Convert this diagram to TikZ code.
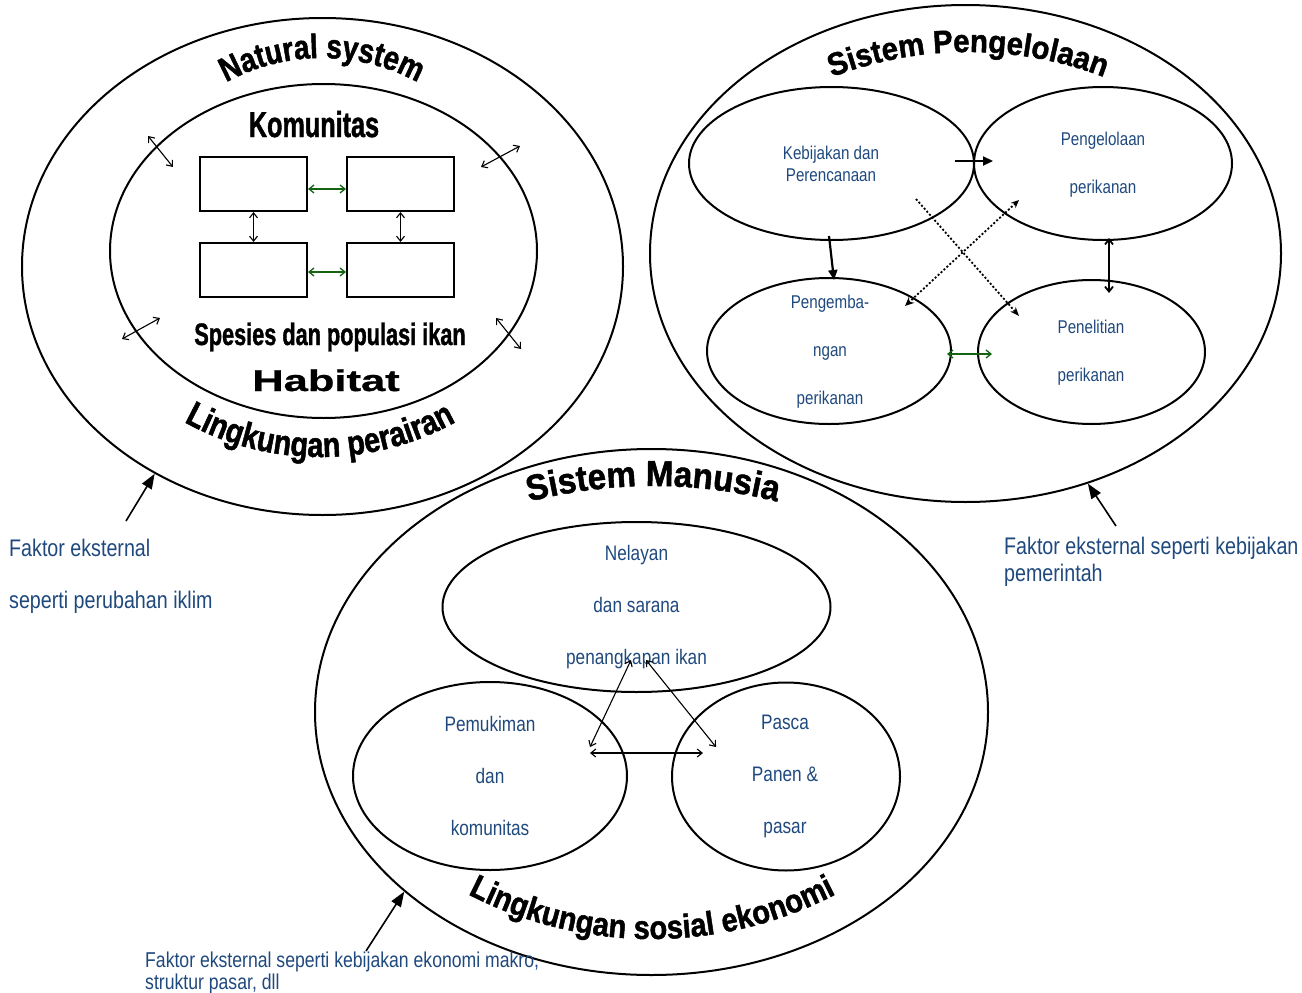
\documentclass[tikz,border=0pt]{standalone}
\usepackage{fontspec}
\setmainfont{Liberation Sans}
\newfontfamily\bluefamily{Liberation Sans}[FakeStretch=0.82]
\newfontfamily\condfamily{Liberation Sans Bold}[FakeStretch=0.70,FakeBold=1.2]
\newfontfamily\widefamily{Liberation Sans Bold}[FakeStretch=1.45,FakeBold=0.8]
\newfontfamily\arcfamilyA{Liberation Sans Bold}[FakeStretch=0.82,FakeBold=1.4]
\newfontfamily\arcfamilyB{Liberation Sans Bold}[FakeStretch=0.92,FakeBold=1.4]
\newfontfamily\arcfamilyC{Liberation Sans Bold}[FakeStretch=0.88,FakeBold=1.4]
\newcommand\fNat{\arcfamilyA\fontsize{34}{40}\selectfont}
\newcommand\fLing{\arcfamilyA\fontsize{35}{40}\selectfont}
\newcommand\fSP{\arcfamilyB\fontsize{32}{38}\selectfont}
\newcommand\fSM{\arcfamilyB\fontsize{36}{40}\selectfont}
\newcommand\fLSE{\arcfamilyC\fontsize{33}{38}\selectfont}
\usetikzlibrary{shapes.geometric,arrows.meta,decorations.text,calc}
\definecolor{blu}{RGB}{31,73,125}
\definecolor{grn}{RGB}{20,100,20}
\tikzset{
  shp/.style={draw, line width=2pt, ellipse, inner sep=0pt},
  boxn/.style={draw, line width=2pt, rectangle, inner sep=0pt, minimum width=107pt, minimum height=54pt},
  dbl/.style={line width=1.1pt, {Straight Barb[length=5pt,width=8pt]}-{Straight Barb[length=5pt,width=8pt]}},
  gdbl/.style={dbl, draw=grn, line width=1.3pt},
  thk/.style={line width=2.2pt, -{Triangle[length=10pt,width=9pt]}},
  dotl/.style={line width=1.8pt, dash pattern=on 2pt off 2pt},
  ext/.style={line width=1.6pt, -{Triangle[length=15pt,width=11pt]}},
  bt/.style={text=blu, align=center, inner sep=0pt},
  lbl/.style={text=blu, inner sep=0pt, anchor=base west, font=\bluefamily\fontsize{24}{28}\selectfont},
  lblsm/.style={text=blu, inner sep=0pt, anchor=base west, font=\bluefamily\fontsize{21.5}{25}\selectfont},
  inA/.style={bt, font=\bluefamily\fontsize{18.5}{48}\selectfont},
  inB/.style={bt, font=\bluefamily\fontsize{21}{52}\selectfont},
}
\begin{document}
\begin{tikzpicture}[x=1pt,y=1pt]
\useasboundingbox (0,0) rectangle (1302,-993);

% ---------- Natural system ----------
\node[shp, minimum width=601pt, minimum height=497pt] (nat) at (322.5,-266.5) {};
\node[shp, minimum width=427pt, minimum height=334pt] (hab) at (323.5,-251) {};
\node[boxn] (b1) at (253.5,-184) {};
\node[boxn] (b2) at (400.5,-184) {};
\node[boxn] (b3) at (253.5,-270) {};
\node[boxn] (b4) at (400.5,-270) {};
\draw[gdbl] ([yshift=-5pt]b1.east) -- ([yshift=-5pt]b2.west);
\draw[gdbl] ([yshift=-2pt]b3.east) -- ([yshift=-2pt]b4.west);
\draw[dbl] (b1.south) -- (b3.north);
\draw[dbl] (b2.south) -- (b4.north);

\node[anchor=base, inner sep=0pt, font=\condfamily\fontsize{36}{40}\selectfont] (kom) at (314,-137) {Komunitas};
\node[anchor=base, inner sep=0pt, font=\condfamily\fontsize{31}{36}\selectfont] (spe) at (330,-345) {Spesies dan populasi ikan};
\node[anchor=base, inner sep=0pt, font=\widefamily\fontsize{30}{36}\selectfont] (habt) at (326,-391) {Habitat};

\coordinate (d1a) at (148,-136); \coordinate (d1b) at (173,-167);
\coordinate (d2a) at (481,-167); \coordinate (d2b) at (520,-146);
\coordinate (d3a) at (122,-339); \coordinate (d3b) at (160,-318);
\coordinate (d4a) at (496,-318); \coordinate (d4b) at (521,-349);
\draw[dbl] (d1a) -- (d1b);
\draw[dbl] (d2a) -- (d2b);
\draw[dbl] (d3a) -- (d3b);
\draw[dbl] (d4a) -- (d4b);

\path[decorate, decoration={text along path, text align=center, text={|\fNat|Natural system}}]
  (322,-258) ++(145:200pt) arc[start angle=145, end angle=35, radius=200pt];
\path[decorate, decoration={text along path, text align=center, text={|\fLing|Lingkungan perairan}}]
  (320,-177) ++(225:280pt) arc[start angle=225, end angle=315, radius=280pt];

% ---------- Sistem Pengelolaan ----------
\node[shp, minimum width=631pt, minimum height=497pt] (mgmt) at (965.5,-253.5) {};
\node[shp, minimum width=285pt, minimum height=153pt] (keb) at (831.5,-163.5) {};
\node[shp, minimum width=258pt, minimum height=153pt] (pgl) at (1103,-163.5) {};
\node[shp, minimum width=244pt, minimum height=146pt] (pgb) at (829,-351) {};
\node[shp, minimum width=227pt, minimum height=144pt] (pen) at (1091.5,-352) {};

\node[bt, font=\bluefamily\fontsize{18.5}{22}\selectfont] (tkeb) at (831,-164) {Kebijakan dan\\Perencanaan};
\node[inA] (tpgl) at (1103,-165) {Pengelolaan\\perikanan};
\node[inA] (tpgb) at (830,-352) {Pengemba-\\ngan\\perikanan};
\node[inA] (tpen) at (1091,-353) {Penelitian\\perikanan};

\coordinate (kp1) at (955,-161); \coordinate (kp2) at (993,-161);
\draw[thk] (kp1) -- (kp2);
\coordinate (kg1) at (829,-236); \coordinate (kg2) at (834,-280);
\draw[thk] (kg1) -- (kg2);
\coordinate (pp1) at (1109,-238); \coordinate (pp2) at (1109,-293);
\draw[dbl, line width=1.8pt] (pp1) -- (pp2);
\coordinate (dt1) at (916,-199); \coordinate (dt2) at (1019,-316);
\draw[dotl, -{Stealth[length=9pt,width=7pt]}] (dt1) -- (dt2);
\coordinate (dt3) at (1019,-200); \coordinate (dt4) at (905,-306);
\draw[dotl, {Stealth[length=8pt,width=7pt]}-{Stealth[length=9pt,width=8pt,open]}] (dt3) -- (dt4);
\coordinate (gg1) at (947,-354); \coordinate (gg2) at (992,-354);
\draw[gdbl] (gg1) -- (gg2);

\path[decorate, decoration={text along path, text align=center, text={|\fSP|Sistem Pengelolaan}}]
  (968,-432) ++(125:380pt) arc[start angle=125, end angle=55, radius=380pt];

% ---------- Sistem Manusia ----------
\node[shp, minimum width=673pt, minimum height=526pt] (man) at (651.5,-712) {};
\node[shp, minimum width=388pt, minimum height=170pt] (nel) at (636.5,-607) {};
\node[shp, minimum width=274pt, minimum height=188pt] (pem) at (490,-776) {};
\node[shp, minimum width=228pt, minimum height=188pt] (pas) at (786,-776.5) {};

\node[inB] (tnel) at (636.5,-607) {Nelayan\\dan sarana\\penangkapan ikan};
\node[inB] (tpem) at (490,-776) {Pemukiman\\dan\\komunitas};
\node[inB] (tpas) at (785,-776) {Pasca\\Panen \&\\pasar};

\coordinate (m1) at (631,-660); \coordinate (m2) at (590,-747);
\coordinate (m3) at (646,-660); \coordinate (m4) at (716,-747);
\coordinate (m5) at (590,-753); \coordinate (m6) at (703,-753);
\draw[dbl] (m1) -- (m2);
\draw[dbl] (m3) -- (m4);
\draw[dbl] (m5) -- (m6);

\path[decorate, decoration={text along path, text align=center, text={|\fSM|Sistem Manusia}}]
  (653,-986) ++(125:500pt) arc[start angle=125, end angle=55, radius=500pt];
\path[decorate, decoration={text along path, text align=center, text={|\fLSE|Lingkungan sosial ekonomi}}]
  (652,-539) ++(235:400pt) arc[start angle=235, end angle=305, radius=400pt];

% ---------- external factors ----------
\node[lbl] (f1) at (9,-556) {Faktor eksternal};
\node[lbl] (f1b) at (9,-608) {seperti perubahan iklim};
\node[lbl] (f2) at (1004,-554) {Faktor eksternal seperti kebijakan};
\node[lbl] (f2b) at (1004,-581) {pemerintah};
\node[lblsm] (f3) at (145,-967) {Faktor eksternal seperti kebijakan ekonomi makro,};
\node[lblsm] (f3b) at (145,-989) {struktur pasar, dll};

\coordinate (e1) at (126,-521);
\coordinate (e2) at (1116,-526);
\coordinate (e3) at (366,-951);
\draw[ext] (e1) -- (nat.231);
\draw[ext] (e2) -- (mgmt.298);
\draw[ext] (e3) -- (man.216);
\end{tikzpicture}
\end{document}
